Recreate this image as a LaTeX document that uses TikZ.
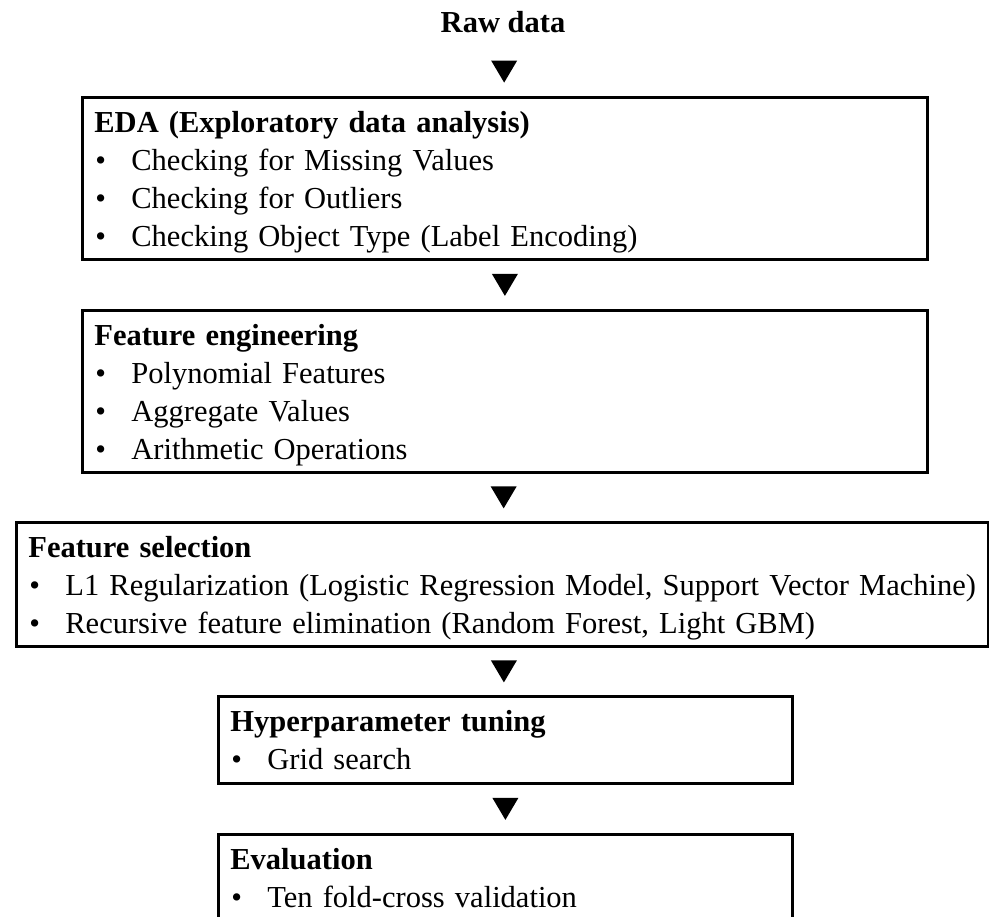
\documentclass[tikz,border=0pt]{standalone}
\usepackage{fontspec}
\setmainfont{Liberation Serif}
\usetikzlibrary{calc}
\setlength{\parindent}{0pt}
\newcommand\lnstrut{\rule[-8pt]{0pt}{38pt}}
\newcommand\bitem[1]{\lnstrut\hspace*{1pt}\makebox[36pt][l]{\textbullet}\mbox{#1}}
\newcommand\btitle[1]{\lnstrut\mbox{\bfseries #1}}
\tikzset{
  box/.style={draw=black, line width=2.8pt, anchor=north west, inner xsep=12pt,
    inner ysep=0pt, align=left, font=\fontsize{30.5}{38}\selectfont},
  tri/.pic={\fill[black] (-13,11) -- (13,11) -- (0,-11) -- cycle;}
}
\begin{document}
\begin{tikzpicture}[x=1pt,y=1pt]
\useasboundingbox (0,0) rectangle (989,-917);
\clip (0,0) rectangle (989,-917);
\node[font=\fontsize{30.5}{38}\selectfont\bfseries, anchor=base, inner sep=0pt] (raw) at (503,-33) {Raw data};
\node[box, minimum width=845pt, minimum height=162pt, text width=821pt] (eda) at (81,-96)
  {\btitle{EDA (Exploratory data analysis)}\\
   \bitem{Checking for Missing Values}\\
   \bitem{Checking for Outliers}\\
   \bitem{Checking Object Type (Label Encoding)}};
\node[box, minimum width=845pt, minimum height=162pt, text width=821pt] (fe) at (81,-309)
  {\btitle{Feature engineering}\\
   \bitem{Polynomial Features}\\
   \bitem{Aggregate Values}\\
   \bitem{Arithmetic Operations}};
\node[box, minimum width=972pt, minimum height=124pt, text width=948pt] (fs) at (15,-521)
  {\btitle{Feature selection}\\
   \bitem{L1 Regularization (Logistic Regression Model, Support Vector Machine)}\\
   \bitem{Recursive feature elimination (Random Forest, Light GBM)}};
\node[box, minimum width=574pt, minimum height=87pt, text width=550pt] (ht) at (217,-695)
  {\btitle{Hyperparameter tuning}\\
   \bitem{Grid search}};
\node[box, minimum width=574pt, minimum height=87pt, text width=550pt] (ev) at (217,-833)
  {\btitle{Evaluation}\\
   \bitem{Ten fold-cross validation}};
\path (raw.south) -- (eda.north) pic[pos=0.61]{tri};
\path (eda.south) -- (fe.north) pic[pos=0.5]{tri};
\path (fe.south) -- (fs.north) pic[pos=0.5]{tri};
\path (fs.south) -- (ht.north) pic[pos=0.5]{tri};
\path (ht.south) -- (ev.north) pic[pos=0.5]{tri};
\end{tikzpicture}
\end{document}
